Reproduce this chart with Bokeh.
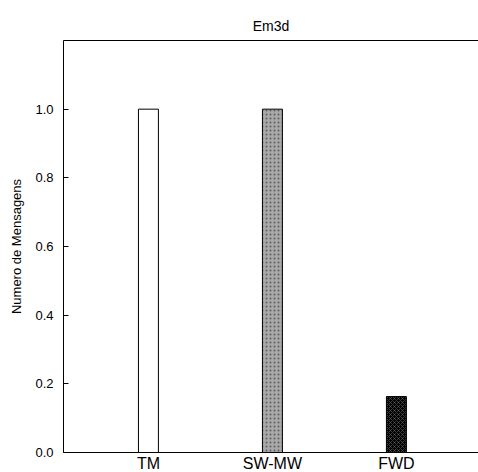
from bokeh.plotting import figure
from bokeh.models import Range1d, FixedTicker, PrintfTickFormatter, LinearAxis, ColumnDataSource
from bokeh.embed import file_html
from bokeh.resources import INLINE

categories = ["TM", "SW-MW", "FWD"]
values = [1.0, 1.0, 0.163]
y_ticks = [0.0, 0.2, 0.4, 0.6, 0.8, 1.0]

positions = list(range(1, len(categories) + 1))
fills = ["white", "#a8a8a8", "black"]
hatches = [" ", "dot", "diagonal_cross"]
hatch_colors = ["white", "#404040", "#808080"]
hatch_alphas = [0.0, 0.7, 0.45]

src = ColumnDataSource(dict(x=positions, top=values, fill=fills, hatch=hatches,
                            hc=hatch_colors, ha=hatch_alphas))

FONT = "Liberation Sans"

p = figure(frame_width=415, frame_height=412, output_backend="svg", toolbar_location=None,
           x_range=Range1d(0.315, 3.662), y_range=Range1d(0, 1.2),
           title="Em3d", min_border_left=63, min_border_right=0,
           min_border_top=40, min_border_bottom=20)
p.outline_line_color = None
p.xgrid.visible = False
p.ygrid.visible = False
p.background_fill_color = "white"
p.border_fill_color = "white"

p.title.align = "center"
p.title.text_font = FONT
p.title.text_font_size = "14px"
p.title.text_font_style = "normal"
p.title.text_color = "black"
p.title.standoff = 14

p.vbar(x="x", top="top", width=0.161, bottom=0, source=src,
       fill_color="fill", line_color="black", line_width=1,
       hatch_pattern="hatch", hatch_color="hc", hatch_scale=4, hatch_weight=1, hatch_alpha="ha")

# x axis
xa = p.xaxis[0]
xa.ticker = FixedTicker(ticks=positions)
xa.major_label_overrides = {pos: c for pos, c in zip(positions, categories)}
xa.major_tick_line_color = None
xa.major_tick_in = 0
xa.major_tick_out = 0
xa.minor_tick_line_color = None
xa.major_label_standoff = 2
xa.major_label_text_font = FONT
xa.major_label_text_font_size = "16px"
xa.major_label_text_color = "black"
xa.axis_line_color = "black"

# y axis
ya = p.yaxis[0]
ya.ticker = FixedTicker(ticks=y_ticks)
ya.formatter = PrintfTickFormatter(format="%.1f")
ya.major_tick_in = 5
ya.major_tick_out = 0
ya.minor_tick_line_color = None
ya.major_label_standoff = 10
ya.major_label_text_font = FONT
ya.major_label_text_font_size = "13px"
ya.major_label_text_color = "black"
ya.axis_label = "Numero de Mensagens"
ya.axis_label_text_font = FONT
ya.axis_label_text_font_size = "13px"
ya.axis_label_text_font_style = "normal"
ya.axis_label_text_color = "black"
ya.axis_label_standoff = 8
ya.axis_line_color = "black"

# top frame line
top = LinearAxis(ticker=FixedTicker(ticks=[]), major_tick_line_color=None,
                 major_tick_in=0, major_tick_out=0,
                 minor_tick_line_color=None, major_label_text_font_size="0px",
                 axis_line_color="black")
p.add_layout(top, "above")

open("out.html", "w").write(file_html(p, INLINE))
